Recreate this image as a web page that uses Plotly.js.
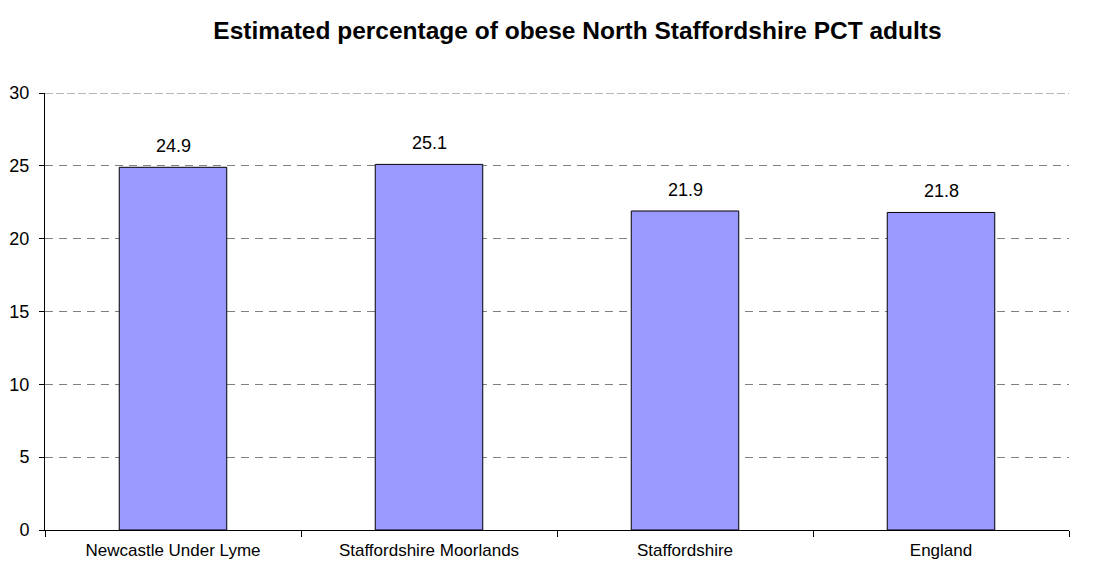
<!DOCTYPE html>
<html><head><meta charset="utf-8">
<script src="https://cdn.plot.ly/plotly-3.0.1.min.js"></script>
<style>html,body{margin:0;padding:0;background:#fff;}#chart{width:1097px;height:568px;}</style>
</head><body><div id="chart"></div>
<script>
var categories = ["Newcastle Under Lyme", "Staffordshire Moorlands", "Staffordshire", "England"];
var values = [24.9, 25.1, 21.9, 21.8];
var valueLabels = ["24.9", "25.1", "21.9", "21.8"];
var yTicks = [0, 5, 10, 15, 20, 25, 30];

var font = "Liberation Sans, Arial, sans-serif";
var trace = {
  type: "bar", x: categories, y: values,
  marker: {color: "#9999ff", line: {color: "#000000", width: 1}},
  width: 0.42, hoverinfo: "x+y"
};
var annotations = categories.map(function(c, i){
  return {x: c, y: values[i], text: valueLabels[i], showarrow: false,
    xanchor: "center", yanchor: "bottom", yshift: 9,
    font: {family: font, size: 18, color: "#000"}};
});
var layout = {
  width: 1097, height: 568,
  margin: {l: 45, r: 28, t: 93, b: 38},
  paper_bgcolor: "#fff", plot_bgcolor: "#fff",
  title: {text: "<b>Estimated percentage of obese North Staffordshire PCT adults</b>",
    font: {family: font, size: 24.5, color: "#000"}, xref: "paper", x: 0.52, xanchor: "center", y: 0.947, yanchor: "middle"},
  xaxis: {type: "category", showline: true, linecolor: "#000", linewidth: 1,
    ticks: "outside", tickson: "boundaries", ticklen: 6, tickcolor: "#000", ticklabelstandoff: 5,
    tickfont: {family: font, size: 17, color: "#000"}, showgrid: false, zeroline: false, fixedrange: true},
  yaxis: {range: [0, 30], tickvals: yTicks, ticktext: yTicks.map(String),
    showline: true, linecolor: "#000", linewidth: 1, ticks: "outside", ticklen: 5, tickcolor: "#000", ticklabelstandoff: 6,
    tickfont: {family: font, size: 18, color: "#000"},
    showgrid: true, gridcolor: "#808080", griddash: "8px,6px", gridwidth: 1, zeroline: false, fixedrange: true},
  shapes: [{type: "line", xref: "paper", yref: "y", x0: 0, x1: 1, y0: 30, y1: 30,
    line: {color: "#a0a0a0", width: 1.5, dash: "8px,3px"}}],
  annotations: annotations,
  showlegend: false
};
Plotly.newPlot("chart", [trace], layout, {displayModeBar: false, staticPlot: true});
</script></body></html>
